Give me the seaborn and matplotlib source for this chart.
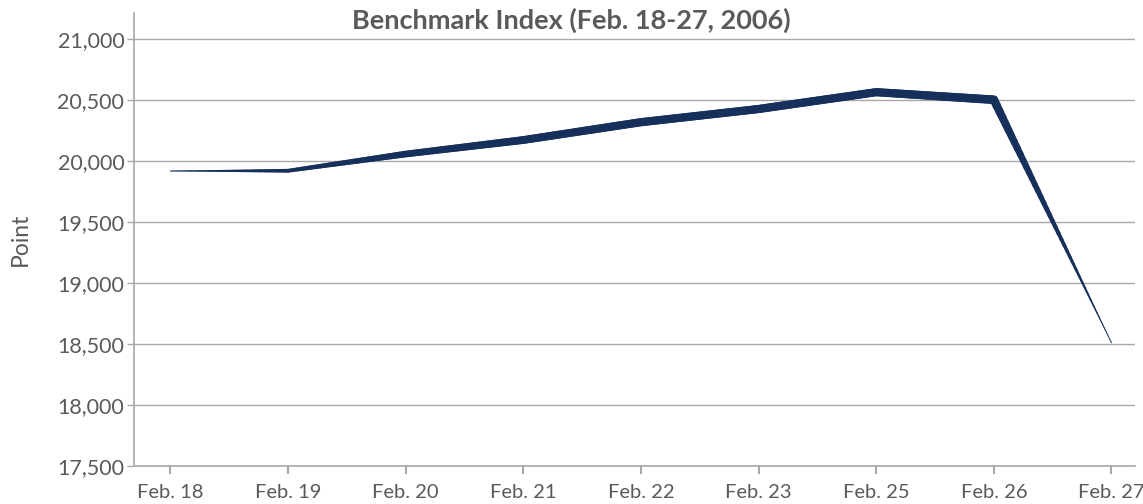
import numpy as np
import pandas as pd
import matplotlib
matplotlib.use("Agg")
import matplotlib.pyplot as plt
import seaborn as sns
from matplotlib.collections import LineCollection
from matplotlib.ticker import FuncFormatter

dates = ["Feb. 18", "Feb. 19", "Feb. 20", "Feb. 21", "Feb. 22",
         "Feb. 23", "Feb. 25", "Feb. 26", "Feb. 27"]
index_points = [19918, 19920, 20057, 20172, 20318, 20426, 20564, 20502, 18510]
y_ticks = [17500, 18000, 18500, 19000, 19500, 20000, 20500, 21000]
# stroke width (px) of the brush-style line at each date
stroke_px = [0.5, 3.8, 6.6, 7.8, 8.2, 8.2, 8.2, 8.6, 0.3]

NAVY = "#16305b"
GRAY_TXT = "#5a5a5a"
GRID = "#a8a8a8"

sns.set_theme(style="white")
plt.rcParams["font.family"] = ["Lato", "DejaVu Sans"]

df = pd.DataFrame({"date": dates, "value": index_points})
df["pos"] = np.arange(len(dates))

fig = plt.figure(figsize=(11.43, 5.04), dpi=100)
ax = fig.add_axes([134 / 1143, 1 - 466 / 504, (1135 - 134) / 1143, (466 - 13) / 504])

# thin core line through the data
sns.lineplot(data=df, x="pos", y="value", ax=ax, color=NAVY, linewidth=0.6,
             zorder=3)

# tapered stroke: each data segment is split into short pieces whose
# width varies linearly between the endpoint widths
px2pt = 72 / fig.dpi
segs, widths = [], []
n_sub = 40
for i in range(len(dates) - 1):
    x0, x1 = df["pos"][i], df["pos"][i + 1]
    y0, y1 = index_points[i], index_points[i + 1]
    w0, w1 = stroke_px[i], stroke_px[i + 1]
    t = np.linspace(0, 1, n_sub + 1)
    xs = x0 + (x1 - x0) * t
    ys = y0 + (y1 - y0) * t
    for k in range(n_sub):
        segs.append([(xs[k], ys[k]), (xs[k + 1], ys[k + 1])])
        tm = (t[k] + t[k + 1]) / 2
        widths.append((w0 + (w1 - w0) * tm) * px2pt)
lc = LineCollection(segs, linewidths=widths, colors=NAVY,
                    capstyle="round", joinstyle="round", zorder=4)
ax.add_collection(lc)

ax.set_xlim(-0.31, 8.2)
ax.set_ylim(17500, 21213)
ax.set_xticks(df["pos"])
ax.set_xticklabels(dates)
ax.set_yticks(y_ticks)
ax.yaxis.set_major_formatter(FuncFormatter(lambda v, _: f"{int(v):,}"))

ax.grid(axis="y", color=GRID, linewidth=1.0)
ax.grid(axis="x", visible=False)
ax.set_axisbelow(True)

for side in ["top", "right"]:
    ax.spines[side].set_visible(False)
for side in ["left", "bottom"]:
    ax.spines[side].set_color(GRID)
    ax.spines[side].set_linewidth(1.2)

ax.tick_params(axis="x", which="major", bottom=True, length=6, width=1.5,
               color=GRID, labelsize=14.5, labelcolor=GRAY_TXT, pad=7)
ax.tick_params(axis="y", which="major", left=True, length=5, width=1.0,
               color=GRID, labelsize=15.5, labelcolor=GRAY_TXT, pad=2)

ax.set_xlabel("")
ax.set_ylabel("Point", fontsize=16.5, color=GRAY_TXT, labelpad=19)

fig.suptitle("Benchmark Index (Feb. 18-27, 2006)", x=0.5, y=0.984,
             va="top", fontsize=19.5, fontweight="bold", color=GRAY_TXT)

fig.savefig("out.png", dpi=100)
